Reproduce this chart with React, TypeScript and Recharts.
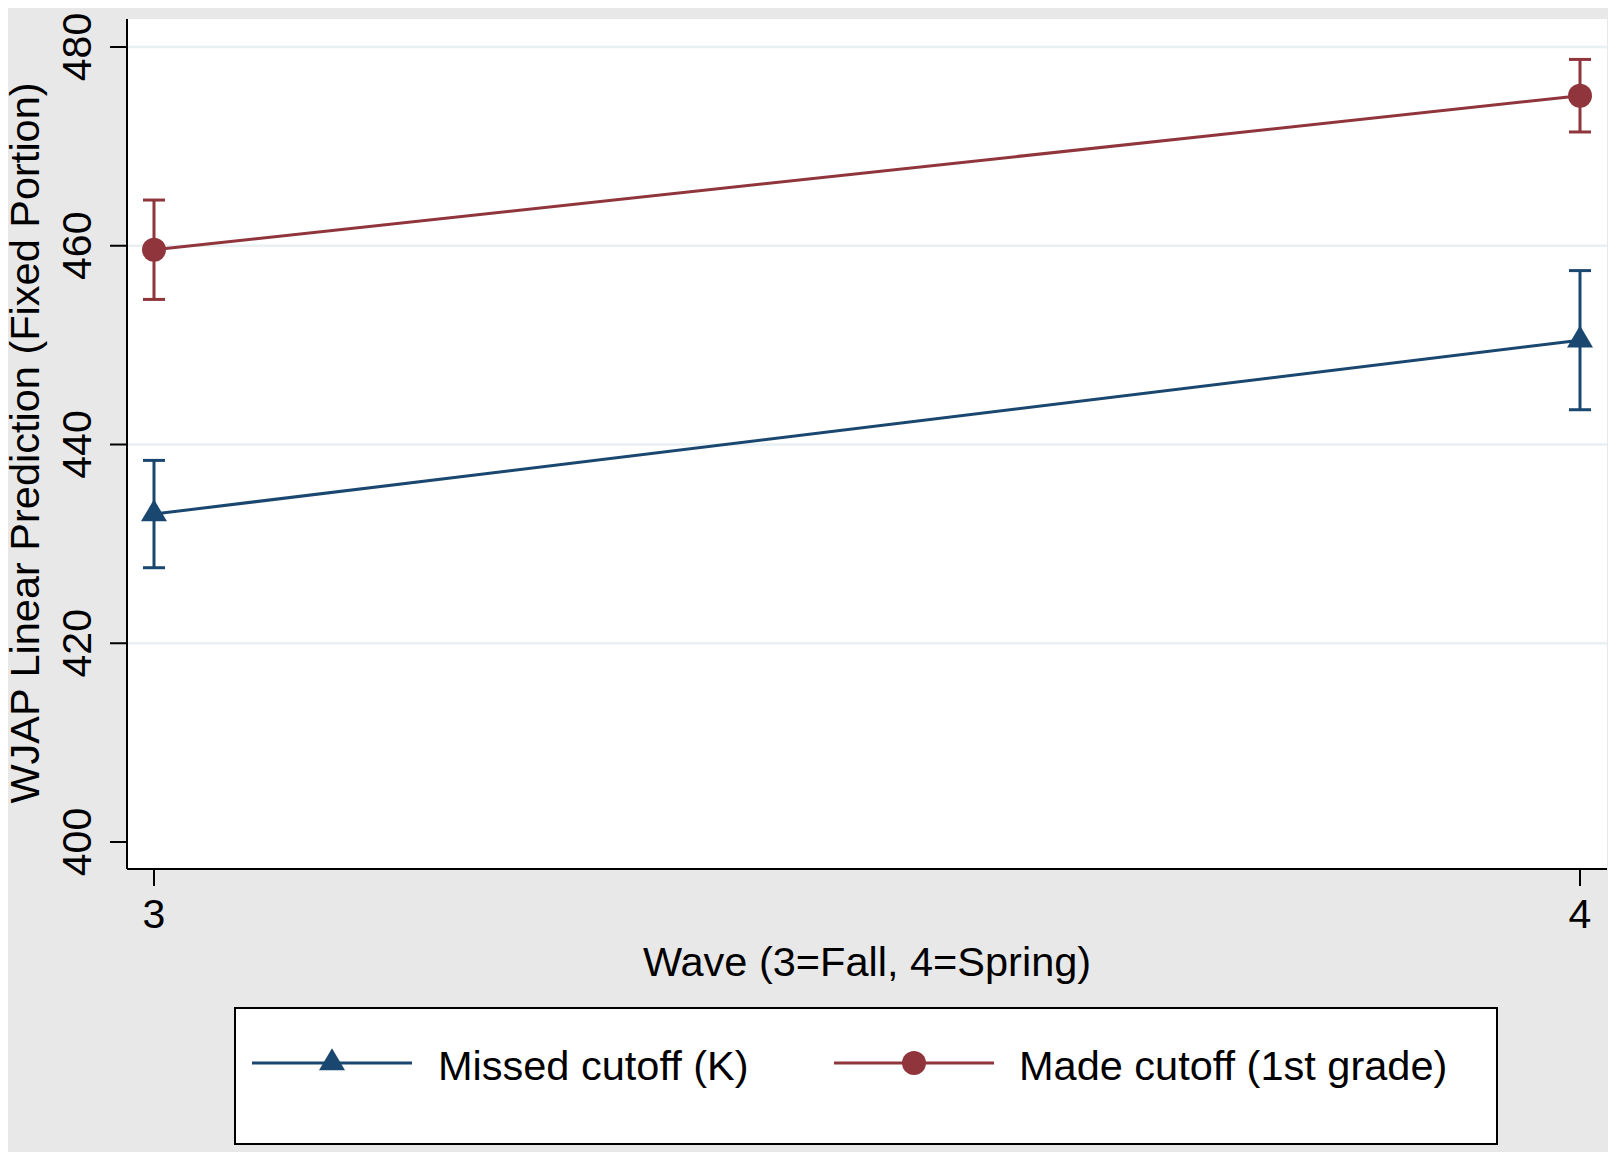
import React from 'react';
import { LineChart, Line, XAxis, YAxis, CartesianGrid, ErrorBar, Legend, Label } from 'recharts';

// ---- data ----
const waves = [3, 4];
const missedMean = [433.0, 450.5];
const missedErr = [5.4, 7.0];
const madeMean = [459.6, 475.1];
const madeErr = [5.0, 3.65];
const xTicks = [3, 4];
const yTicks = [400, 420, 440, 460, 480];
const gridValues = [420, 440, 460, 480];
const seriesNames = ['Missed cutoff (K)', 'Made cutoff (1st grade)'];
const xTitle = 'Wave (3=Fall, 4=Spring)';
const yTitle = 'WJAP Linear Prediction (Fixed Portion)';

const data = waves.map((w, i) => ({
  wave: w,
  missed: missedMean[i],
  missedErr: missedErr[i],
  made: madeMean[i],
  madeErr: madeErr[i],
}));

const NAVY = '#1a476f';
const MAROON = '#90353b';
const FONT = '"Liberation Sans", Arial, Helvetica, sans-serif';
const BG = '#e8e8e8';
const GRID = '#e9f0f2';

const W = 1617;
const H = 1161;
const MARGIN = { top: 19, right: 10, left: 0, bottom: 0 };
const Y_AXIS_W = 127;
const X_AXIS_H = 292;

const TriangleDot = (props: any) => {
  const { cx, cy } = props;
  if (cx == null || cy == null) return null;
  return (
    <path
      key={`tri-${cx}`}
      d={`M${cx},${cy - 14.7} L${cx + 13},${cy + 7.3} L${cx - 13},${cy + 7.3} Z`}
      fill={NAVY}
    />
  );
};

const CircleDot = (props: any) => {
  const { cx, cy } = props;
  if (cx == null || cy == null) return null;
  return <circle key={`cir-${cx}`} cx={cx} cy={cy} r={12} fill={MAROON} />;
};

const YTick = (props: any) => {
  const { x, y, payload } = props;
  return (
    <text
      x={x}
      y={y}
      transform={`rotate(-90 ${x} ${y})`}
      textAnchor="middle"
      fontSize={41}
      fontFamily={FONT}
      fill="#000"
    >
      {payload.value}
    </text>
  );
};

const XTick = (props: any) => {
  const { x, y, payload } = props;
  return (
    <text x={x} y={y + 42} textAnchor="middle" fontSize={41} fontFamily={FONT} fill="#000">
      {payload.value}
    </text>
  );
};

const LEG_W = 1264;
const LEG_H = 138;

const LegendBox = () => (
  <svg width={LEG_W} height={LEG_H} style={{ display: 'block' }}>
    <rect x={1} y={1} width={LEG_W - 2} height={LEG_H - 2} fill="#fff" stroke="#000" strokeWidth={2} />
    <line x1={18} x2={178} y1={56} y2={56} stroke={NAVY} strokeWidth={3} />
    <path d={`M98,${56 - 14.7} L111,${56 + 7.3} L85,${56 + 7.3} Z`} fill={NAVY} />
    <text x={204} y={73} fontSize={41.5} fontFamily={FONT} fill="#000">
      {seriesNames[0]}
    </text>
    <line x1={600} x2={760} y1={56} y2={56} stroke={MAROON} strokeWidth={3} />
    <circle cx={680} cy={56} r={12} fill={MAROON} />
    <text x={785} y={73} fontSize={41.5} fontFamily={FONT} fill="#000">
      {seriesNames[1]}
    </text>
  </svg>
);

export default function App() {
  return (
    <div style={{ position: 'absolute', left: 0, top: 0, width: W, height: H, background: '#fff' }}>
      <div style={{ position: 'absolute', left: 8, top: 8, width: 1600, height: 1144, background: BG }} />
      <div style={{ position: 'absolute', left: 0, top: 0 }}>
        <LineChart width={W} height={H} data={data} margin={MARGIN}>
          <CartesianGrid
            horizontal
            vertical={false}
            fill="#ffffff"
            stroke={GRID}
            strokeWidth={2.5}
            horizontalValues={gridValues}
          />
          <XAxis
            dataKey="wave"
            type="number"
            domain={[2.98107, 4.01893]}
            ticks={xTicks}
            allowDataOverflow
            height={X_AXIS_H}
            tickSize={17}
            tickMargin={0}
            axisLine={{ stroke: '#000', strokeWidth: 2 }}
            tickLine={{ stroke: '#000', strokeWidth: 2 }}
            tick={<XTick />}
            interval={0}
          >
            <Label
              content={() => (
                <text x={867} y={976} textAnchor="middle" fontSize={41.5} fontFamily={FONT} fill="#000">
                  {xTitle}
                </text>
              )}
            />
          </XAxis>
          <YAxis
            type="number"
            domain={[397.283, 482.818]}
            ticks={yTicks}
            allowDataOverflow
            width={Y_AXIS_W}
            tickSize={17}
            tickMargin={19}
            axisLine={{ stroke: '#000', strokeWidth: 2 }}
            tickLine={{ stroke: '#000', strokeWidth: 2 }}
            tick={<YTick />}
            interval={0}
          >
            <Label
              content={() => (
                <text
                  x={39}
                  y={443}
                  transform="rotate(-90 39 443)"
                  textAnchor="middle"
                  fontSize={41.5}
                  fontFamily={FONT}
                  fill="#000"
                >
                  {yTitle}
                </text>
              )}
            />
          </YAxis>
          <Legend
            layout="horizontal"
            verticalAlign="middle"
            align="center"
            wrapperStyle={{ left: 234, top: 1007, width: LEG_W, height: LEG_H }}
            content={<LegendBox />}
          />
          <Line
            dataKey="missed"
            name={seriesNames[0]}
            stroke={NAVY}
            strokeWidth={3}
            dot={<TriangleDot />}
            activeDot={false}
            isAnimationActive={false}
          >
            <ErrorBar dataKey="missedErr" direction="y" width={11} stroke={NAVY} strokeWidth={3} isAnimationActive={false} />
          </Line>
          <Line
            dataKey="made"
            name={seriesNames[1]}
            stroke={MAROON}
            strokeWidth={3}
            dot={<CircleDot />}
            activeDot={false}
            isAnimationActive={false}
          >
            <ErrorBar dataKey="madeErr" direction="y" width={11} stroke={MAROON} strokeWidth={3} isAnimationActive={false} />
          </Line>
        </LineChart>
      </div>
    </div>
  );
}
